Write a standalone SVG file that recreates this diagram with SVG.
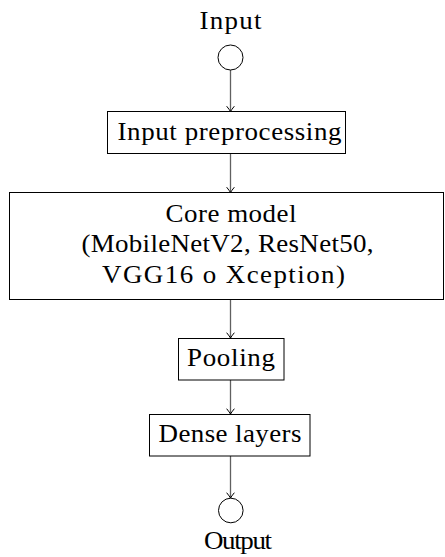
<svg xmlns="http://www.w3.org/2000/svg" width="445" height="557" viewBox="0 0 445 557">
  <style>
    .box { fill: #ffffff; stroke: #000000; stroke-width: 1; }
    .term { fill: #ffffff; stroke: #000000; stroke-width: 1; }
    .label { font-family: "Liberation Serif", serif; font-size: 24.5px; font-weight: normal; fill: #000000; text-anchor: middle; }
    .edge { stroke: #606060; stroke-width: 1.3; fill: none; marker-end: url(#tip); }
  </style>
  <defs>
    <!-- small open curved arrow tip, TikZ "to" style -->
    <marker id="tip" viewBox="-6 -5 8 10" refX="0" refY="0" markerWidth="8" markerHeight="10" markerUnits="userSpaceOnUse" orient="auto">
      <path d="M -5 -3.6 Q -1.5 -0.8 0 0 Q -1.5 0.8 -5 3.6" fill="none" stroke="#000000" stroke-width="1" stroke-linecap="round"/>
    </marker>
  </defs>
  <rect width="445" height="557" fill="#ffffff"/>

  <g id="connectors">
    <line class="edge" x1="230.5" y1="70" x2="230.5" y2="111.5"/>
    <line class="edge" x1="230.5" y1="153.5" x2="230.5" y2="192.5"/>
    <line class="edge" x1="230.5" y1="299.5" x2="230.5" y2="338"/>
    <line class="edge" x1="230.5" y1="380" x2="230.5" y2="414"/>
    <line class="edge" x1="230.5" y1="456" x2="230.5" y2="498"/>
  </g>

  <!-- labels are widened slightly (scale 1.1) and spaced out to a fixed width -->
  <g id="input">
    <text class="label" transform="translate(230.5 28.5) scale(1.1 1)" textLength="56.4" lengthAdjust="spacing">Input</text>
    <circle class="term" cx="230.5" cy="57.5" r="12.5"/>
  </g>

  <g id="preprocessing">
    <rect class="box" x="107.5" y="111.5" width="238" height="42"/>
    <text class="label" transform="translate(229.5 140) scale(1.1 1)" textLength="203.6" lengthAdjust="spacing">Input preprocessing</text>
  </g>

  <g id="core-model">
    <rect class="box" x="9.5" y="192.5" width="434" height="107"/>
    <text class="label" transform="translate(231 221.5) scale(1.1 1)" textLength="119.1" lengthAdjust="spacing">Core model</text>
    <text class="label" transform="translate(227.5 252) scale(1.1 1)" textLength="265.5" lengthAdjust="spacing">(MobileNetV2, ResNet50,</text>
    <text class="label" transform="translate(223.5 282.5) scale(1.1 1)" textLength="220.9" lengthAdjust="spacing">VGG16 o Xception)</text>
  </g>

  <g id="pooling">
    <rect class="box" x="178.5" y="338.5" width="105.5" height="41.5"/>
    <text class="label" transform="translate(231 366) scale(1.1 1)" textLength="80" lengthAdjust="spacing">Pooling</text>
  </g>

  <g id="dense-layers">
    <rect class="box" x="149.5" y="414.5" width="160.5" height="41.5"/>
    <text class="label" transform="translate(230 442) scale(1.1 1)" textLength="130" lengthAdjust="spacing">Dense layers</text>
  </g>

  <g id="output">
    <circle class="term" cx="230.8" cy="510.5" r="12.3"/>
    <text class="label" transform="translate(238 548.5) scale(1.1 1)" textLength="61.8" lengthAdjust="spacing">Output</text>
  </g>
</svg>
